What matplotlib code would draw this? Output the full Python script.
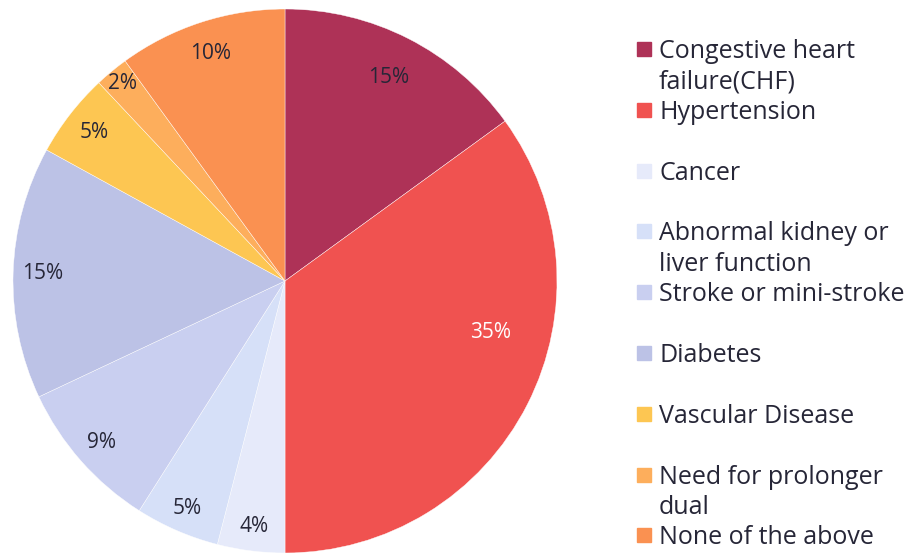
import numpy as np
import matplotlib
matplotlib.use("Agg")
from matplotlib import pyplot as plt
from matplotlib.patches import Rectangle

categories = ["Congestive heart\nfailure(CHF)", "Hypertension", "Cancer",
              "Abnormal kidney or\nliver function", "Stroke or mini-stroke",
              "Diabetes", "Vascular Disease", "Need for prolonger\ndual",
              "None of the above"]
values = [15, 35, 4, 5, 9, 15, 5, 2, 10]
colors = ["#AE3257", "#F05250", "#E6EAFA", "#D6E0F8", "#C9CFF0",
          "#BCC2E6", "#FDC652", "#FDAE5C", "#FA9151"]

plt.rcParams['font.family'] = ['Open Sans', 'DejaVu Sans']
text_color = "#262637"

fig = plt.figure(figsize=(9.21, 5.53), dpi=100)
W, H = 921, 553
cx, cy, R = 285, 281, 272
ax = fig.add_axes([(cx - R) / W, (H - cy - R) / H, 2 * R / W, 2 * R / H])

wedges, _ = ax.pie(values, colors=colors, startangle=90, counterclock=False,
                   wedgeprops=dict(edgecolor="white", linewidth=0.3))
ax.set_xlim(-1, 1)
ax.set_ylim(-1, 1)
ax.set_aspect("auto")

# label distances / angle tweaks per slice
label_r = [0.84, 0.78, 0.91, 0.91, 0.90, 0.89, 0.89, 0.94, 0.88]
label_shift = [0, 13, 0, 0, 0, 0, 0, 0, 0]
for i, w in enumerate(wedges):
    ang = np.deg2rad((w.theta1 + w.theta2) / 2 + label_shift[i])
    x = label_r[i] * np.cos(ang)
    y = label_r[i] * np.sin(ang)
    col = "white" if i == 1 else text_color
    ax.text(x, y, f"{values[i]}%", ha="center", va="center",
            fontsize=15, color=col)

# legend drawn by hand
top = 49
step = 60.8
for i, lab in enumerate(categories):
    y = top + i * step
    fig.patches.append(Rectangle((637 / W, 1 - (y + 7) / H), 14 / W, 14 / H,
                                 transform=fig.transFigure, color=colors[i]))
    fig.text(659 / W, 1 - (y - 10) / H, lab, ha="left", va="top",
             fontsize=18, color=text_color, linespacing=1.3)

fig.savefig("out.png", dpi=100)
